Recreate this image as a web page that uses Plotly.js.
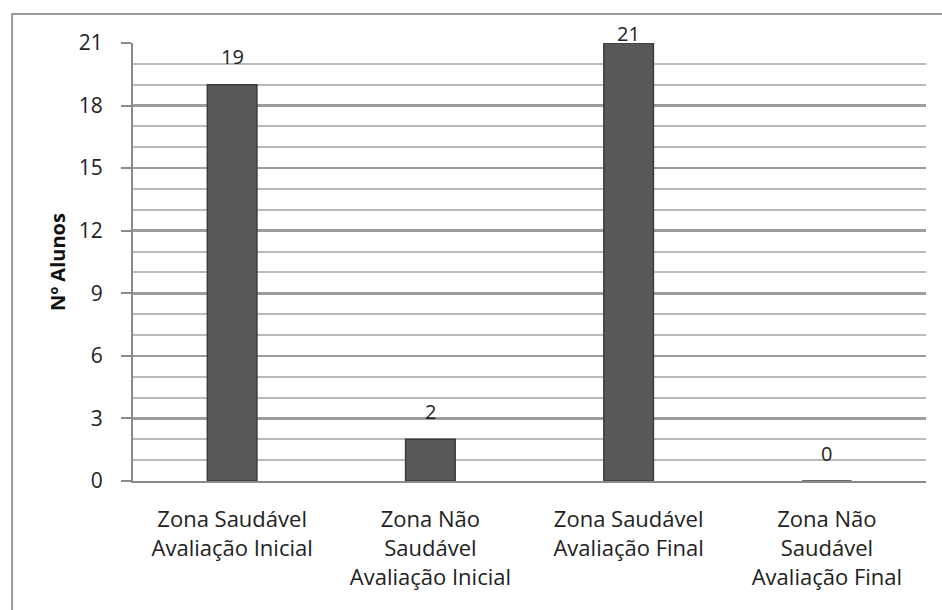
<!DOCTYPE html>
<html>
<head>
<meta charset="utf-8">
<script src="https://cdn.plot.ly/plotly-3.0.1.min.js"></script>
<style>html,body{margin:0;padding:0;background:#fff;}#chart{width:942px;height:610px;}</style>
</head>
<body>
<div id="chart"></div>
<script>
const categories = [
  "Zona Saudável<br>Avaliação Inicial",
  "Zona Não<br>Saudável<br>Avaliação Inicial",
  "Zona Saudável<br>Avaliação Final",
  "Zona Não<br>Saudável<br>Avaliação Final"
];
const values = [19, 2, 21, 0];
const yTicks = [0, 3, 6, 9, 12, 15, 18, 21];
const yTitle = "Nº Alunos";

const font = "'Open Sans', sans-serif";
const yMax = 21;

const bars = {
  type: "bar",
  x: categories,
  y: values,
  marker: {color: "#585858", line: {color: "#3a3a3a", width: 1.5}},
  width: 0.25,
  hoverinfo: "skip"
};

const annotations = categories.map((c, i) => ({
  x: c, y: values[i], xref: "x", yref: "y",
  text: String(values[i]), showarrow: false,
  yanchor: "middle", yshift: values[i] >= yMax ? 10 : 28,
  font: {family: font, size: 20, color: "#222"}
}));

const layout = {
  width: 942, height: 610,
  margin: {l: 133, r: 16, t: 43, b: 129},
  paper_bgcolor: "#fff", plot_bgcolor: "#fff",
  showlegend: false,
  bargap: 0.75,
  xaxis: {
    type: "category",
    showgrid: false, zeroline: false,
    showline: true, linecolor: "#8a8a8a", linewidth: 2,
    ticks: "", ticklabelstandoff: 18,
    tickfont: {family: font, size: 22, color: "#222"}
  },
  yaxis: {
    range: [0, yMax],
    tickvals: yTicks,
    ticktext: yTicks.map(String),
    showgrid: true, gridcolor: "#9c9c9c", gridwidth: 2.5,
    minor: {dtick: 1, tick0: 0, showgrid: true, gridcolor: "#b9b9b9", gridwidth: 2},
    zeroline: false,
    showline: true, linecolor: "#8a8a8a", linewidth: 2,
    ticks: "outside", ticklen: 10, tickcolor: "#8a8a8a", tickwidth: 2,
    ticklabelstandoff: 14,
    tickfont: {family: font, size: 21, color: "#222"},
    title: {text: yTitle, standoff: 8, font: {family: font, size: 20, color: "#111", weight: "bold"}}
  },
  annotations: annotations,
  shapes: [{
    type: "rect", xref: "paper", yref: "paper",
    x0: -0.1525, x1: 1.1, y0: -0.4, y1: 1.066,
    line: {color: "#9a9a9a", width: 2}, fillcolor: "rgba(0,0,0,0)", layer: "below"
  }]
};

Plotly.newPlot("chart", [bars], layout, {displayModeBar: false, staticPlot: true});
</script>
</body>
</html>
